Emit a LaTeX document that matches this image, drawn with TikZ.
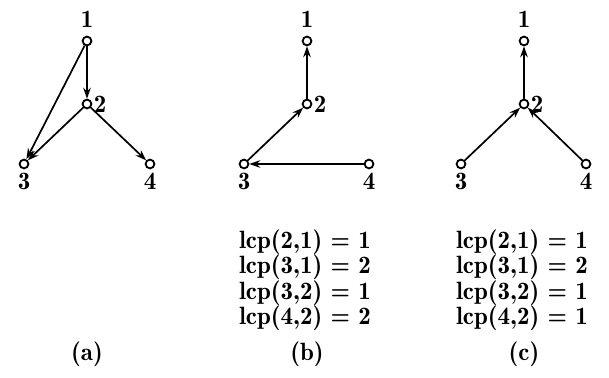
\documentclass[tikz,border=0pt]{standalone}
\usetikzlibrary{arrows.meta}
\begin{document}
\begin{tikzpicture}[x=0.5pt,y=-0.5pt,
  vert/.style={circle,draw,line width=0.9pt,inner sep=0pt,minimum size=4.4pt},
  arc/.style={line width=0.85pt,-{Stealth[length=5.5pt,width=3.8pt]}},
  lab/.style={font=\fontsize{12.5}{12.75}\fontseries{b}\selectfont,inner sep=1pt},
  every label/.style={lab}]
  \useasboundingbox (0,0) rectangle (609,378);

  % ---- (a) ----
  \begin{scope}[xshift=43.5pt]
    \node[vert,label={[label distance=2.8pt]above:1}] (a1) at (0,41) {};
    \node[vert,label={[label distance=-0.4pt]right:2}] (a2) at (0,104) {};
    \node[vert,label={[label distance=0.8pt]below:3}] (a3) at (-63,164) {};
    \node[vert,label={[label distance=0.8pt]below:4}] (a4) at (63,164) {};
    \draw[arc] (a1) -- (a2);
    \draw[arc] (a1) -- (a3);
    \draw[arc] (a2) -- (a3);
    \draw[arc] (a2) -- (a4);
    \node[lab] (capa) at (0,354) {(a)};
  \end{scope}

  % ---- (b) ----
  \begin{scope}[xshift=153.5pt]
    \node[vert,label={[label distance=2.8pt]above:1}] (b1) at (0,41) {};
    \node[vert,label={[label distance=-0.4pt]right:2}] (b2) at (0,104) {};
    \node[vert,label={[label distance=0.8pt]below:3}] (b3) at (-63,164) {};
    \node[vert,label={[label distance=0.8pt]below:4}] (b4) at (62,164) {};
    \draw[arc] (b2) -- (b1);
    \draw[arc] (b3) -- (b2);
    \draw[arc] (b4) -- (b3);
    \node[lab,align=center] (lcpb) at (-2,280)
      {lcp(2,1) = 1\\lcp(3,1) = 2\\lcp(3,2) = 1\\lcp(4,2) = 2};
    \node[lab] (capb) at (0,354) {(b)};
  \end{scope}

  % ---- (c) ----
  \begin{scope}[xshift=262pt]
    \node[vert,label={[label distance=2.8pt]above:1}] (c1) at (0,41) {};
    \node[vert,label={[label distance=-0.4pt]right:2}] (c2) at (0,104) {};
    \node[vert,label={[label distance=0.8pt]below:3}] (c3) at (-63,164) {};
    \node[vert,label={[label distance=0.8pt]below:4}] (c4) at (62,164) {};
    \draw[arc] (c2) -- (c1);
    \draw[arc] (c3) -- (c2);
    \draw[arc] (c4) -- (c2);
    \node[lab,align=center] (lcpc) at (-2,280)
      {lcp(2,1) = 1\\lcp(3,1) = 2\\lcp(3,2) = 1\\lcp(4,2) = 1};
    \node[lab] (capc) at (0,354) {(c)};
  \end{scope}
\end{tikzpicture}
\end{document}
